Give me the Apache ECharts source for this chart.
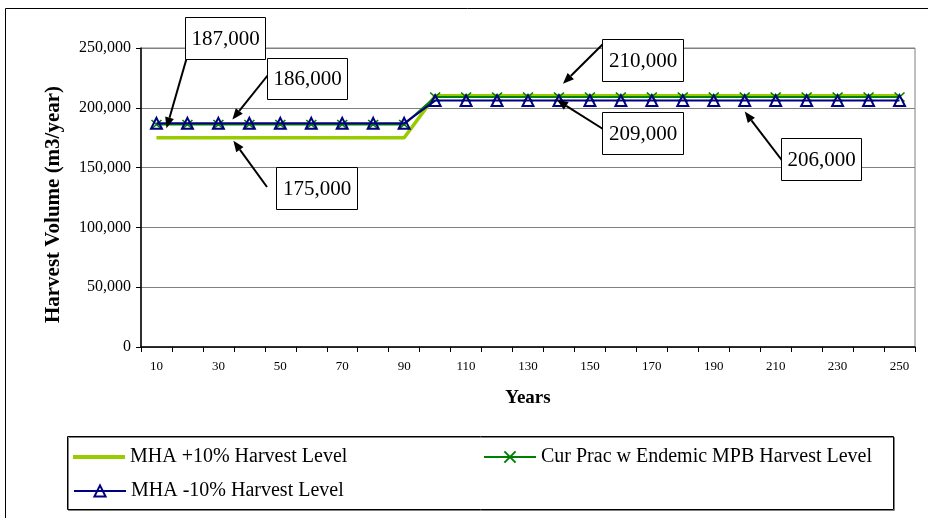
<!DOCTYPE html>
<html>
<head>
<meta charset="utf-8">
<title>Harvest Volume</title>
<script src="https://cdn.jsdelivr.net/npm/echarts@6/dist/echarts.min.js"></script>
<style>
  html, body { margin: 0; padding: 0; background: #fff; }
  #chart { width: 928px; height: 518px; }
</style>
</head>
<body>
<div id="chart"></div>
<script>
// Simulation years (x axis categories)
const categories = ['10', '20', '30', '40', '50', '60', '70', '80', '90', '100', '110', '120', '130',
  '140', '150', '160', '170', '180', '190', '200', '210', '220', '230', '240', '250'];

// Harvest volume (m3/year) per scenario
const mhaPlus10 = [175000, 175000, 175000, 175000, 175000, 175000, 175000, 175000, 175000,
  210000, 210000, 210000, 210000, 210000, 210000, 210000, 210000, 210000, 210000, 210000,
  210000, 210000, 210000, 210000, 210000];
const curPracEndemic = [186000, 186000, 186000, 186000, 186000, 186000, 186000, 186000, 186000,
  209000, 209000, 209000, 209000, 209000, 209000, 209000, 209000, 209000, 209000, 209000,
  209000, 209000, 209000, 209000, 209000];
const mhaMinus10 = [187000, 187000, 187000, 187000, 187000, 187000, 187000, 187000, 187000,
  206000, 206000, 206000, 206000, 206000, 206000, 206000, 206000, 206000, 206000, 206000,
  206000, 206000, 206000, 206000, 206000];

const seriesNames = ['MHA +10% Harvest Level', 'Cur Prac w Endemic MPB Harvest Level', 'MHA -10% Harvest Level'];
const seriesData = [mhaPlus10, curPracEndemic, mhaMinus10];

// Value callouts: which series and which year each one points at
const callouts = [
  { series: 2, index: 0 },
  { series: 1, index: 2 },
  { series: 0, index: 2 },
  { series: 0, index: 13 },
  { series: 1, index: 13 },
  { series: 2, index: 19 }
];
// Callout layout in pixels: text box, arrow tail, and arrow tip offset from the point
const calloutLayout = [
  { box: [185, 17, 80, 42], tail: [187, 57], tipOffset: [10, 5] },
  { box: [267, 58, 80, 41], tail: [268, 75], tipOffset: [14, -5] },
  { box: [276, 167, 81, 42], tail: [267, 187], tipOffset: [15, 3] },
  { box: [602, 39, 81, 42], tail: [604, 43], tipOffset: [4, -12] },
  { box: [602, 112, 81, 42], tail: [603, 129], tipOffset: [-2, 3] },
  { box: [781, 138, 80, 42], tail: [784, 163], tipOffset: [0, 11] }
];

const SERIF = "'Liberation Serif', 'Times New Roman', serif";
const fmt = v => v.toLocaleString('en-US');

const chart = echarts.init(document.getElementById('chart'), null, { renderer: 'canvas' });

const crossPath = 'path://M0,0L10,10M10,0L0,10';
const legendText = { fontFamily: SERIF, fontSize: 20, color: '#000' };

chart.setOption({
  backgroundColor: '#ffffff',
  animation: false,
  grid: {
    left: 141, top: 48, right: 13, bottom: 171,
    show: true, borderColor: '#808080', borderWidth: 1, backgroundColor: 'transparent'
  },
  xAxis: {
    type: 'category',
    data: categories,
    boundaryGap: true,
    name: 'Years',
    nameLocation: 'middle',
    nameGap: 42,
    nameTextStyle: { fontFamily: SERIF, fontWeight: 'bold', fontSize: 19, color: '#000' },
    axisLine: { lineStyle: { color: '#000', width: 1.5 } },
    axisTick: { show: true, interval: 0, length: 5, lineStyle: { color: '#000' } },
    axisLabel: { interval: 1, fontFamily: SERIF, fontSize: 13, color: '#000', margin: 13 },
    splitLine: { show: false }
  },
  yAxis: {
    type: 'value',
    min: 0, max: 250000, interval: 50000,
    name: 'Harvest Volume (m3/year)',
    nameLocation: 'middle',
    nameGap: 77,
    nameRotate: 90,
    nameTextStyle: { fontFamily: SERIF, fontWeight: 'bold', fontSize: 21, color: '#000', padding: [0, 14, 0, 0] },
    axisLine: { show: true, lineStyle: { color: '#000', width: 1.5 } },
    axisTick: { show: true, length: 5, lineStyle: { color: '#000' } },
    axisLabel: { formatter: v => fmt(v), fontFamily: SERIF, fontSize: 16, color: '#000', margin: 10 },
    splitLine: { show: true, lineStyle: { color: '#808080', width: 1 } }
  },
  legend: [
    {
      data: [{ name: seriesNames[0], icon: 'rect' }], left: 73, top: 447, padding: 0,
      itemWidth: 52, itemHeight: 4, textStyle: legendText
    },
    {
      data: [seriesNames[1]], left: 483, top: 447, padding: 0,
      itemWidth: 52, itemHeight: 14, textStyle: legendText
    },
    {
      data: [seriesNames[2]], left: 73, top: 481, padding: 0,
      itemWidth: 52, itemHeight: 14, textStyle: legendText
    }
  ],
  series: [
    {
      name: seriesNames[0], type: 'line', data: seriesData[0],
      symbol: 'none', showSymbol: false,
      lineStyle: { color: '#99cc00', width: 3.5 },
      itemStyle: { color: '#99cc00' },
      z: 2
    },
    {
      name: seriesNames[1], type: 'line', data: seriesData[1],
      symbol: crossPath, symbolSize: [10, 9],
      lineStyle: { color: '#008000', width: 2 },
      itemStyle: { color: 'none', borderColor: '#008000', borderWidth: 1.5 },
      z: 3
    },
    {
      name: seriesNames[2], type: 'line', data: seriesData[2],
      symbol: 'triangle', symbolSize: [11, 11],
      lineStyle: { color: '#000080', width: 2 },
      itemStyle: { color: 'none', borderColor: '#000080', borderWidth: 2 },
      z: 4
    }
  ]
});

// Frames and value callouts drawn on top of the plot
function buildGraphics() {
  const g = [];
  // outer chart frame
  g.push({ type: 'rect', shape: { x: 5.5, y: 8.5, width: 940, height: 540 },
    style: { fill: 'none', stroke: '#000', lineWidth: 1 }, z: 0, silent: true });
  // legend frame
  g.push({ type: 'rect', shape: { x: 68.5, y: 437.5, width: 826, height: 73 },
    style: { fill: 'none', stroke: '#808080', lineWidth: 1 }, z: 0, silent: true });
  g.push({ type: 'rect', shape: { x: 67.5, y: 436.5, width: 826, height: 73 },
    style: { fill: 'none', stroke: '#000', lineWidth: 1 }, z: 0, silent: true });

  callouts.forEach((c, i) => {
    const L = calloutLayout[i];
    const value = seriesData[c.series][c.index];
    const p = chart.convertToPixel({ gridIndex: 0 }, [categories[c.index], value]);
    const tip = [p[0] + L.tipOffset[0], p[1] + L.tipOffset[1]];
    const tail = L.tail;
    const dx = tip[0] - tail[0], dy = tip[1] - tail[1];
    const len = Math.sqrt(dx * dx + dy * dy);
    const ux = dx / len, uy = dy / len;
    const headLen = 11, headHalf = 4.5;
    const base = [tip[0] - ux * headLen, tip[1] - uy * headLen];
    const nx = -uy, ny = ux;
    g.push({ type: 'line', shape: { x1: tail[0], y1: tail[1], x2: base[0], y2: base[1] },
      style: { stroke: '#000', lineWidth: 2 }, z: 100, silent: true });
    g.push({ type: 'polygon', shape: { points: [
        tip,
        [base[0] + nx * headHalf, base[1] + ny * headHalf],
        [base[0] - nx * headHalf, base[1] - ny * headHalf]
      ] }, style: { fill: '#000' }, z: 100, silent: true });
    const [bx, by, bw, bh] = L.box;
    g.push({ type: 'rect', shape: { x: bx + 0.5, y: by + 0.5, width: bw, height: bh },
      style: { fill: '#fff', stroke: '#000', lineWidth: 1 }, z: 101, silent: true });
    g.push({ type: 'text', x: bx + bw / 2 + 0.5, y: by + bh / 2 + 1,
      style: { text: fmt(value), fill: '#000', font: '21px ' + SERIF, align: 'center', verticalAlign: 'middle' },
      z: 102, silent: true });
  });
  return g;
}

chart.setOption({ graphic: buildGraphics() });
</script>
</body>
</html>
